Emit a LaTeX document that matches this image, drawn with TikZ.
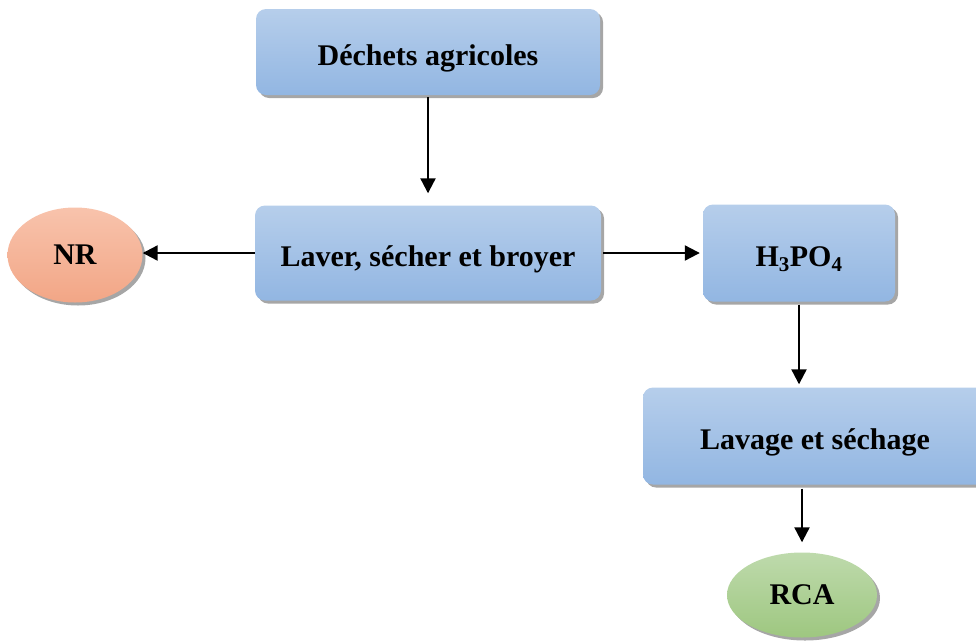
\documentclass[tikz,border=0pt]{standalone}
\usepackage{fontspec}
\setmainfont{Liberation Serif}
\usetikzlibrary{arrows.meta,shadows,shapes.geometric}
\definecolor{bluetop}{RGB}{182,206,235}
\definecolor{bluebot}{RGB}{146,182,226}
\definecolor{redtop}{RGB}{248,195,172}
\definecolor{redbot}{RGB}{242,166,134}
\definecolor{greentop}{RGB}{190,218,172}
\definecolor{greenbot}{RGB}{158,199,128}
\tikzset{
  sh/.style={drop shadow={shadow xshift=3pt,shadow yshift=-3pt,fill=black!35,opacity=1}},
  lbl/.style={font=\fontsize{30}{34}\selectfont\bfseries,inner sep=0pt,draw=none},
  procbox/.style={sh,lbl,rectangle,rounded corners=10pt,top color=bluetop,bottom color=bluebot,
    text height=26pt,text depth=0pt},
  redell/.style={sh,lbl,ellipse,top color=redtop,bottom color=redbot},
  greenell/.style={sh,lbl,ellipse,top color=greentop,bottom color=greenbot},
  arr/.style={line width=2.2pt,-{Triangle[length=15pt,width=15pt]}}
}
\begin{document}
\begin{tikzpicture}[x=1pt,y=-1pt]
\useasboundingbox (0,0) rectangle (976,643);
\node[procbox,minimum width=344pt,minimum height=86pt] (dechets) at (428,52) {Déchets agricoles};
\node[procbox,minimum width=346pt,minimum height=95pt] (laver) at (428,253) {Laver, sécher et broyer};
\node[procbox,minimum width=192pt,minimum height=97pt] (acid) at (799,253) {H\textsubscript{3}PO\textsubscript{4}};
\node[procbox,minimum width=344pt,minimum height=97pt] (lavage) at (815,436) {Lavage et séchage};
\node[redell,minimum width=135pt,minimum height=95pt] (nr) at (75,255) {NR};
\node[greenell,minimum width=150pt,minimum height=85pt] (rca) at (802,595) {RCA};
\draw[arr] ([yshift=-2pt]dechets.south) -- ([yshift=12pt]laver.north);
\draw[arr] (laver.west) -- (nr.east |- laver.west);
\draw[arr] ([xshift=2pt]laver.east) -- ([xshift=-3pt]acid.west);
\draw[arr] ([yshift=-3pt]acid.south) -- ([yshift=3pt]lavage.north -| acid.south);
\draw[arr] ([yshift=-4pt]lavage.south -| rca.north) -- ([yshift=10pt]rca.north);
\end{tikzpicture}
\end{document}
